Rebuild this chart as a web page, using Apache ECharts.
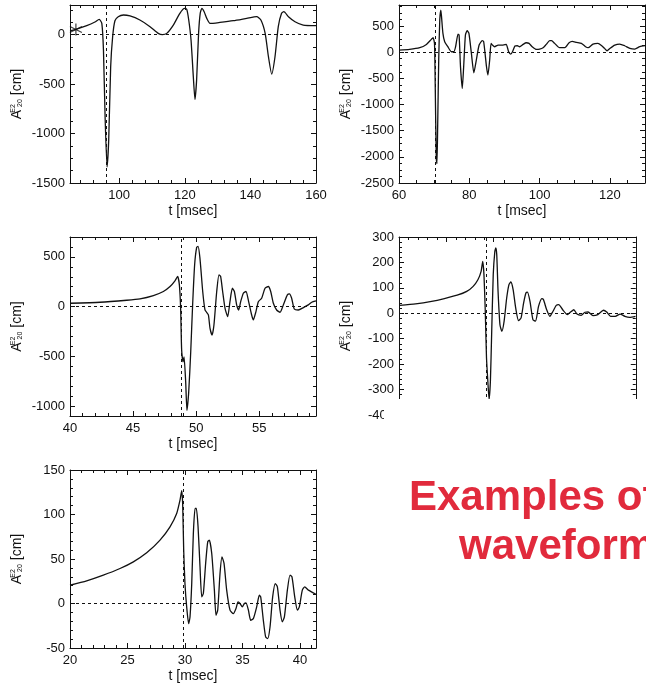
<!DOCTYPE html>
<html><head><meta charset="utf-8">
<script src="https://cdn.jsdelivr.net/npm/echarts@6/dist/echarts.min.js"></script>
<style>html,body{margin:0;padding:0;background:#fff}#c{width:646px;height:685px}</style>
</head><body><div id="c"></div>
<script>
// ---- Panel 1 (top-left) ----
const t1 = [85,86.8,90.1,92.6,93.9,94.7,95.2,95.7,96.3,96.8,97.4,98.0,98.7,99.7,101.3,103.3,106.3,109.4,111.9,113.2,114.5,116.5,118.5,119.9,120.6,121.2,121.9,122.6,123.1,123.6,124.2,124.7,125.2,125.9,126.7,127.7,130.7,134.8,138.9,141.9,143.2,144.5,145.5,146.5,147.5,148.5,149.5,150.2,151.6,153.6,156.1,160];
const a1 = [40,54,91,128,155,114,-156,-831,-1337,-1067,-325,-21,141,182,199,189,148,81,13,0,13,97,216,266,256,148,-54,-426,-655,-460,13,216,266,232,165,114,124,141,165,182,148,13,-223,-399,-223,81,216,232,182,131,97,91];
const bounce1 = 96;
const star1 = [86.8, 53];
// ---- Panel 2 (top-right) ----
const t2 = [60,63.0,65.9,67.8,69.2,69.7,70.1,70.3,70.6,70.8,71.0,71.3,71.6,71.9,72.1,72.5,73.0,73.9,74.9,75.6,76.1,76.8,77.1,77.5,78.0,78.4,78.9,79.4,79.9,80.6,81.3,82.0,82.8,83.7,84.1,84.9,85.3,85.8,86.2,86.6,87.2,88.2,89.6,90.5,91.2,91.8,92.3,93.0,93.7,94.3,95.3,96.2,97.0,97.9,99.1,100.0,101.0,101.9,102.9,103.4,104.3,105.7,107.2,108.4,109.3,110.5,111.9,113.1,113.8,115.2,116.6,117.6,118.5,119.2,120.0,121.4,122.8,124.2,125.7,127.1,128.5,130];
const a2 = [39,52,84,147,243,275,167,-599,-2002,-2129,-1428,-152,613,804,677,358,198,103,7,7,103,345,326,-280,-694,-280,326,409,358,-25,-395,-152,135,218,198,-280,-439,-152,167,135,103,135,135,147,7,-37,7,116,122,103,147,179,167,103,52,58,84,147,218,218,167,84,84,179,205,186,167,103,84,154,167,128,71,26,71,135,154,122,71,58,103,122];
const bounce2 = 70.3;
// ---- Panel 3 (middle-left) ----
const t3 = [40,42.38,44.49,45.55,46.61,47.40,47.93,48.32,48.53,48.67,48.77,48.85,48.96,49.04,49.17,49.27,49.41,49.57,49.72,49.88,50.04,50.15,50.30,50.52,50.70,50.83,50.97,51.10,51.26,51.41,51.63,51.81,51.94,52.10,52.29,52.50,52.68,52.87,53.03,53.21,53.37,53.53,53.74,53.95,54.16,54.40,54.53,54.74,54.93,55.19,55.46,55.72,55.91,56.12,56.38,56.65,56.91,57.23,57.39,57.57,57.78,58.10,58.50,58.89,59.16,59.5];
const a3 = [34,44,64,78,111,152,202,259,303,219,-17,-437,-555,-505,-757,-1043,-858,-454,17,421,596,606,488,152,-34,-57,-84,-219,-286,-185,152,320,303,152,-17,-101,50,185,152,17,-34,50,135,152,50,-84,-134,-50,50,84,185,202,152,34,-34,-57,17,118,128,84,-24,-34,-10,17,44,57];
const bounce3 = 48.85;
// ---- Panel 4 (middle-right) ----
const t4 = [20.07,21.75,23.44,24.79,26.14,27.15,27.83,28.33,28.67,28.84,28.97,29.11,29.24,29.38,29.51,29.65,29.78,29.95,30.12,30.22,30.32,30.46,30.66,30.86,31.10,31.37,31.61,31.81,32.05,32.32,32.62,32.89,33.16,33.40,33.56,33.83,34.14,34.41,34.74,35.08,35.25,35.59,35.93,36.26,36.60,36.87,37.28,37.78,38.12,38.46,38.79,39.23,39.64,39.97,40.48,40.99,41.59,41.93,42.34,42.84,43.35,43.85,44.36,44.97];
const a4 = [31,37,47,58,71,86,106,132,165,204,152,8,-176,-267,-339,-267,-84,152,244,257,231,86,-45,-71,-31,60,113,123,93,21,-29,-18,41,80,83,47,-25,-31,28,58,54,14,-12,8,31,34,14,-5,5,14,-3,-8,4,5,-9,-5,12,5,-12,-12,-3,-12,-16,-12];
const bounce4 = 29.18;
// ---- Panel 5 (bottom-left) ----
const t5 = [20,21.45,22.9,24.35,25.51,26.67,27.83,28.70,29.28,29.57,29.72,29.80,29.89,30.0,30.15,30.32,30.44,30.59,30.73,30.88,30.99,31.14,31.31,31.46,31.60,31.80,31.98,32.12,32.33,32.56,32.70,32.85,33.05,33.22,33.40,33.63,33.92,34.21,34.44,34.62,34.79,34.99,35.17,35.31,35.52,35.72,35.95,36.24,36.47,36.59,36.82,37.02,37.2,37.4,37.63,37.86,38.04,38.27,38.47,38.65,38.91,39.14,39.31,39.55,39.78,39.95,40.21,40.42,40.74,41.4];
const a5 = [20.5,25.4,31.8,39.3,46.8,56.9,71.2,86.2,101.2,116.2,126.7,112.5,60,22.4,-3.8,-22.6,-15.1,22.4,78.7,106.8,106.8,86.2,41.2,7.4,11.2,45,69.3,71.2,56.2,15,-13.2,-7.5,33.7,52.4,45,15,-7.5,-11.3,-5.6,1.8,0,-3.8,0,0.7,-7.5,-18.9,-17,-3.8,9.3,7.4,-18.9,-37.6,-39.5,-26.4,7.4,22.4,18.7,-7.5,-20.7,-15.1,15,31.8,29.9,7.4,-7.5,-3.8,15,18.7,15,10.4];
const bounce5 = 29.85;
// axis ranges: [min, max, major step, minor splits]
const xr1 = [85,160,20,5],   yr1 = [-1500,300,500,4];
const xr2 = [60,130,20,4],   yr2 = [-2500,900,500,4];
const xr3 = [40,59.5,5,5],   yr3 = [-1100,700,500,5];
const xr4 = [20,45,5,5],     yr4 = [-400,300,100,5];
const xr5 = [20,41.4,5,5],   yr5 = [-50,150,50,5];
const xName = 't [msec]';
const yNameMain = 'A', yNameSup = 'E2', yNameSub = '20', yNameUnit = '[cm]';
const title1 = 'Examples of', title2 = 'waveforms';

const FONT = '"Liberation Sans", Arial, Helvetica, sans-serif';
const INK = '#111';
const panels = [
  {g:{left:70,top:5,width:246,height:178}, xr:xr1, yr:yr1, t:t1, a:a1, b:bounce1},
  {g:{left:399,top:5,width:246,height:178}, xr:xr2, yr:yr2, t:t2, a:a2, b:bounce2},
  {g:{left:70,top:237,width:246,height:179}, xr:xr3, yr:yr3, t:t3, a:a3, b:bounce3},
  {g:{left:399,top:237,width:246,height:178}, xr:xr4, yr:yr4, t:t4, a:a4, b:bounce4},
  {g:{left:70,top:470,width:246,height:178}, xr:xr5, yr:yr5, t:t5, a:a5, b:bounce5}
];
function isMult(v, s){ return Math.abs(v/s - Math.round(v/s)) < 1e-6; }
const grids=[], xAxes=[], yAxes=[], series=[];
const tickStyle = {color: INK, width: 1};
panels.forEach((p,i)=>{
  grids.push(Object.assign({containLabel:false}, p.g));
  const base = (r, pos, showLab) => ({
    type:'value', gridIndex:i, min:r[0], max:r[1], minInterval:r[2], maxInterval:r[2], splitNumber:5,
    position:pos,
    axisLine:{show:true,onZero:false,lineStyle:{color:INK,width:1}},
    axisTick:{show:true,inside:true,length:5,lineStyle:tickStyle},
    minorTick:{show:true,splitNumber:r[3],length:3,lineStyle:tickStyle},
    splitLine:{show:false}, minorSplitLine:{show:false},
    axisLabel:{show:showLab, color:INK, fontFamily:FONT, fontSize:13, margin:(pos==='bottom'?6:5),
      formatter:(v)=>String(Math.round(v*1000)/1000),
      showMinLabel: isMult(r[0],r[2]) ? true : false,
      showMaxLabel: isMult(r[1],r[2]) ? true : false,
      hideOverlap:false},
    silent:true
  });
  const xb = base(p.xr,'bottom',true);
  xb.name = xName; xb.nameLocation='middle'; xb.nameGap=21;
  xb.nameTextStyle={color:INK,fontFamily:FONT,fontSize:14};
  xAxes.push(xb);
  xAxes.push(base(p.xr,'top',false));
  const yl = base(p.yr,'left',true);
  yl.name = '{a|'+yNameMain+'}{sup|'+yNameSup+'}{sub|'+yNameSub+'}{a| '+yNameUnit+'}';
  yl.nameLocation='middle'; yl.nameGap=46;
  yl.nameTextStyle={color:INK,fontFamily:FONT,fontSize:14,
    rich:{a:{fontFamily:FONT,fontSize:14,color:INK},
          sup:{fontFamily:FONT,fontSize:7,color:INK,verticalAlign:'top',width:1,padding:[0,0,0,1]},
          sub:{fontFamily:FONT,fontSize:7,color:INK,verticalAlign:'bottom',padding:[0,0,0,1]}}};
  yAxes.push(yl);
  yAxes.push(base(p.yr,'right',false));
  series.push({
    type:'line', xAxisIndex:2*i, yAxisIndex:2*i, data:p.t.map((v,k)=>[v,p.a[k]]),
    showSymbol:false, smooth:0.2, lineStyle:{color:INK,width:1.3}, silent:true, animation:false,
    markLine:{silent:true, symbol:'none', label:{show:false}, animation:false,
      lineStyle:{color:INK,width:1,type:[3,3]},
      data:[{yAxis:0},{xAxis:p.b}]}
  });
});
series.push({type:'scatter', xAxisIndex:0, yAxisIndex:0, data:[star1], silent:true, animation:false,
  symbol:'path://M0,-10L0,10M-8.66,-5L8.66,5M-8.66,5L8.66,-5', symbolSize:12,
  itemStyle:{color:'none',borderColor:INK,borderWidth:1.2}});

const chart = echarts.init(document.getElementById('c'), null, {renderer:'canvas'});
chart.setOption({
  backgroundColor:'#fff', animation:false,
  grid:grids, xAxis:xAxes, yAxis:yAxes, series:series,
  graphic:[
    {type:'rect', z:100, shape:{x:384,y:399,width:262,height:286}, style:{fill:'#fff'}},
    {type:'text', z:101, x:409, y:498, style:{text:title1, fill:'#e12a3c', font:'bold 42px '+FONT, verticalAlign:'middle', align:'left'}},
    {type:'text', z:101, x:459, y:547, style:{text:title2, fill:'#e12a3c', font:'bold 42px '+FONT, verticalAlign:'middle', align:'left'}}
  ]
});
</script></body></html>
